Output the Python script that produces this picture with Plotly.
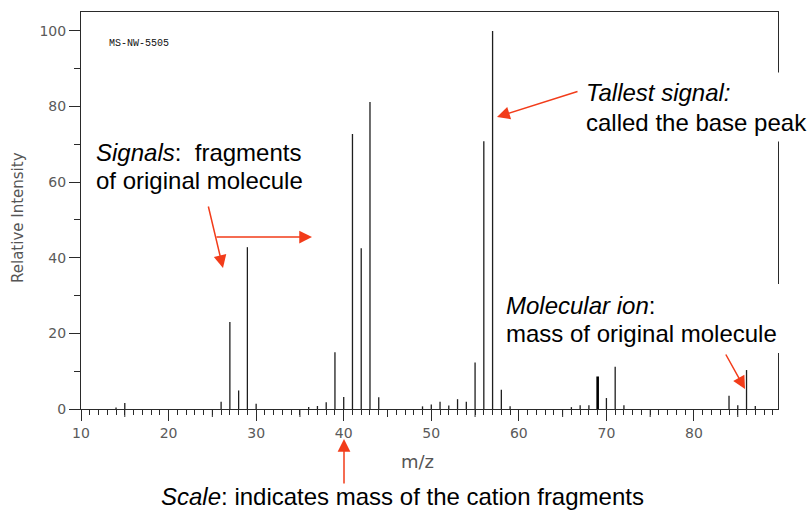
import plotly.graph_objects as go

# ---- data ----
mz = [14, 15, 26, 27, 28, 29, 30, 36, 37, 38, 39, 40, 41, 42, 43, 44,
      49, 50, 51, 52, 53, 54, 55, 56, 57, 58, 59, 66, 67, 68, 70, 71, 72,
      84, 85, 86, 87]
intensity = [0.4, 1.6, 1.9, 23.0, 4.9, 42.8, 1.4, 0.5, 0.8, 1.8, 15.0, 3.2, 72.7, 42.5, 81.2, 3.1,
             0.7, 1.2, 1.9, 0.9, 2.6, 1.9, 12.3, 70.8, 100.0, 5.1, 0.7, 0.5, 1.0, 1.0, 2.9, 11.2, 1.0,
             3.5, 1.0, 10.3, 0.8]
bold_mz = [69]
bold_intensity = [8.6]

x_ticks = [10, 20, 30, 40, 50, 60, 70, 80]
y_ticks = [0, 20, 40, 60, 80, 100]
mid_ticks = [15, 25, 35, 45, 55, 65, 75, 85]

W, H = 810, 510
L, R, T, B = 81, 32, 12, 101
PW, PH = W - L - R, H - T - B


def px(x):
    return (x - L) / PW


def py(y):
    return (H - B - y) / PH


def stems(xs, ys):
    sx, sy = [], []
    for a, b in zip(xs, ys):
        sx += [a, a, None]
        sy += [0, b, None]
    return sx, sy


fig = go.Figure()
sx, sy = stems(mz, intensity)
fig.add_trace(go.Scatter(x=sx, y=sy, mode="lines", line=dict(color="#1e1e1e", width=1.3),
                         hoverinfo="skip", showlegend=False))
bx, by = stems(bold_mz, bold_intensity)
fig.add_trace(go.Scatter(x=bx, y=by, mode="lines", line=dict(color="#000000", width=2.6),
                         hoverinfo="skip", showlegend=False))

axis_col = "#2a2a2a"
tick_font = dict(family="DejaVu Sans", size=14, color="#5a5a5a")

fig.update_xaxes(range=[10, 10 + PW / 8.757], showgrid=False, zeroline=False,
                 showline=True, linecolor=axis_col, linewidth=1, mirror=True,
                 ticks="outside", tickvals=x_ticks, ticktext=[str(v) for v in x_ticks],
                 ticklen=11, tickwidth=1, tickcolor=axis_col, tickfont=tick_font,
                 minor=dict(dtick=1, tick0=0, ticklen=5, tickwidth=1, tickcolor=axis_col, ticks="outside"))
fig.update_yaxes(range=[0, 105], showgrid=False, zeroline=False,
                 showline=True, linecolor=axis_col, linewidth=1, mirror=True,
                 ticks="outside", tickvals=y_ticks, ticktext=[str(v) for v in y_ticks],
                 ticklen=11, tickwidth=1, tickcolor=axis_col, tickfont=tick_font,
                 minor=dict(dtick=10, tick0=0, ticklen=6, tickwidth=1, tickcolor=axis_col, ticks="outside"))

shapes = []
for v in mid_ticks:
    shapes.append(dict(type="line", xref="x", yref="paper", ysizemode="pixel", yanchor=0,
                       x0=v, x1=v, y0=0, y1=-8, line=dict(color=axis_col, width=1)))
# white boxes behind the annotation text that break the right frame line
for top in (72.5, 284):
    shapes.append(dict(type="rect", xref="paper", yref="paper", xsizemode="pixel", ysizemode="pixel",
                       xanchor=1, yanchor=py(top), x0=-6, x1=6, y0=0, y1=-69,
                       fillcolor="white", line=dict(width=0), layer="above"))

txt_font = dict(family="Liberation Sans, Arial", size=24, color="black")
ann = []


def text(s, x, y, font=txt_font, xanchor="left", **kw):
    ann.append(dict(text=s, x=px(x), y=py(y), xref="paper", yref="paper", showarrow=False,
                    xanchor=xanchor, yanchor="middle", font=font, borderpad=0, **kw))


text("<i>Signals</i>:\u00a0 fragments", 95, 152)
text("of original molecule", 95, 180)
text("<i>Tallest signal:</i>", 585, 93)
text("called the base peak", 585, 122)
text("<i>Molecular ion</i>:", 505, 305)
text("mass of original molecule", 505, 333)
text("<i>Scale</i>: indicates mass of the cation fragments", 160, 496)
text("MS-NW-5505", 108, 44, font=dict(family="Liberation Mono", size=10, color="#111111"))
text("Relative Intensity", 18, 217, font=dict(family="DejaVu Sans", size=15, color="#555555"),
     xanchor="center", textangle=-90)
text("m/z", 417, 461, font=dict(family="DejaVu Sans", size=18, color="#555555"), xanchor="center")

arrow_col = "#f23c1a"


def arrow(tail, tip):
    ann.append(dict(text="", x=px(tip[0]), y=py(tip[1]), xref="paper", yref="paper",
                    ax=tail[0] - tip[0], ay=tail[1] - tip[1], showarrow=True,
                    arrowhead=2, arrowsize=1.7, arrowwidth=1.5, arrowcolor=arrow_col, standoff=0))


arrow((208, 205), (223, 268))
arrow((215, 237), (312, 237))
arrow((579, 91), (497, 117))
arrow((725, 353), (745, 389))
arrow((344, 485), (344, 439))

fig.update_layout(width=W, height=H, autosize=False,
                  margin=dict(l=L, r=R, t=T, b=B, pad=0),
                  paper_bgcolor="white", plot_bgcolor="white",
                  shapes=shapes, annotations=ann, showlegend=False)

fig.write_html("out.html")
